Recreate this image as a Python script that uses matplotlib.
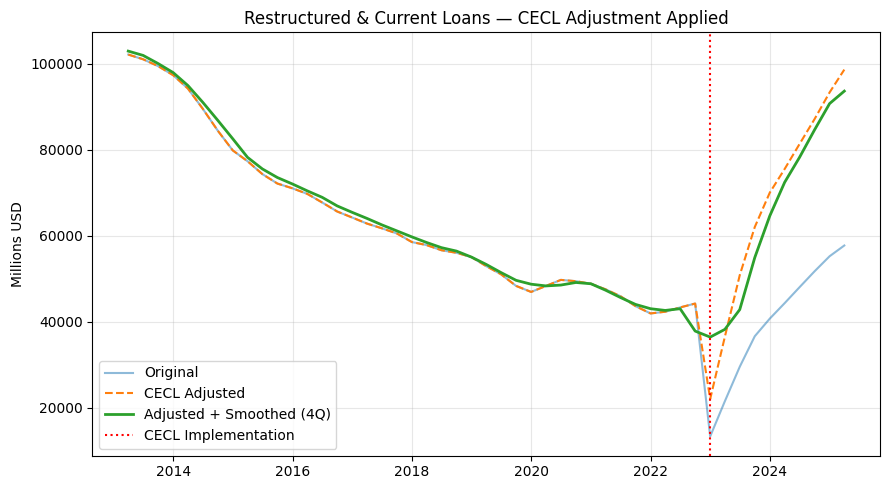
import pandas as pd
import matplotlib
matplotlib.use("Agg")
import matplotlib.pyplot as plt

# quarterly observations, quarter ends 2013Q1 .. 2025Q1
dates = pd.date_range("2013-03-31", periods=49, freq="QE")

original = [
    102100, 101000, 99400, 97300, 94200, 89500, 84400, 79800, 77300, 74300,
    72100, 71000, 69700, 67700, 65600, 64200, 62800, 61700, 60500, 58500,
    57800, 56600, 56000, 55000, 52900, 51000, 48300, 46900, 48300, 49700,
    49400, 48800, 47500, 45900, 43600, 41900, 42300, 43300, 44200, 13300,
    21500, 29500, 36600, 40700, 44300, 48000, 51700, 55200, 57700,
]

cecl_adjusted = [
    102100, 101000, 99400, 97300, 94200, 89500, 84400, 79800, 77300, 74300,
    72100, 71000, 69700, 67700, 65600, 64200, 62800, 61700, 60500, 58500,
    57800, 56600, 56000, 55000, 52900, 51000, 48300, 46900, 48300, 49700,
    49400, 48800, 47500, 45900, 43600, 41900, 42300, 43300, 44200, 22000,
    36500, 50800, 62000, 70000, 75500, 81300, 87100, 93300, 98600,
]

smoothed = [
    102900, 101900, 100000, 97900, 94900, 91000, 86800, 82500, 78200, 75500,
    73500, 72000, 70400, 68900, 66900, 65400, 64000, 62500, 61100, 59700,
    58400, 57200, 56400, 55000, 53300, 51400, 49600, 48700, 48300, 48500,
    49100, 48800, 47300, 45600, 44000, 43000, 42600, 43000, 37800, 36400,
    38200, 42800, 54900, 64600, 72400, 78200, 84600, 90700, 93600,
]

cecl_date = pd.Timestamp("2023-01-01")

fig, ax = plt.subplots(figsize=(8.89, 4.9), dpi=100)

ax.plot(dates, original, color="tab:blue", alpha=0.5, linewidth=1.5, label="Original")
ax.plot(dates, cecl_adjusted, color="tab:orange", linestyle="--", linewidth=1.5, label="CECL Adjusted")
ax.plot(dates, smoothed, color="tab:green", linewidth=2, label="Adjusted + Smoothed (4Q)")
ax.axvline(cecl_date, color="red", linestyle=":", linewidth=1.5, label="CECL Implementation")

ax.set_title("Restructured & Current Loans — CECL Adjustment Applied")
ax.set_ylabel("Millions USD")
ax.grid(True, alpha=0.3)
ax.legend(loc="lower left")

fig.subplots_adjust(left=0.104, right=0.990, bottom=0.070, top=0.935)
fig.savefig("out.png", dpi=100)
